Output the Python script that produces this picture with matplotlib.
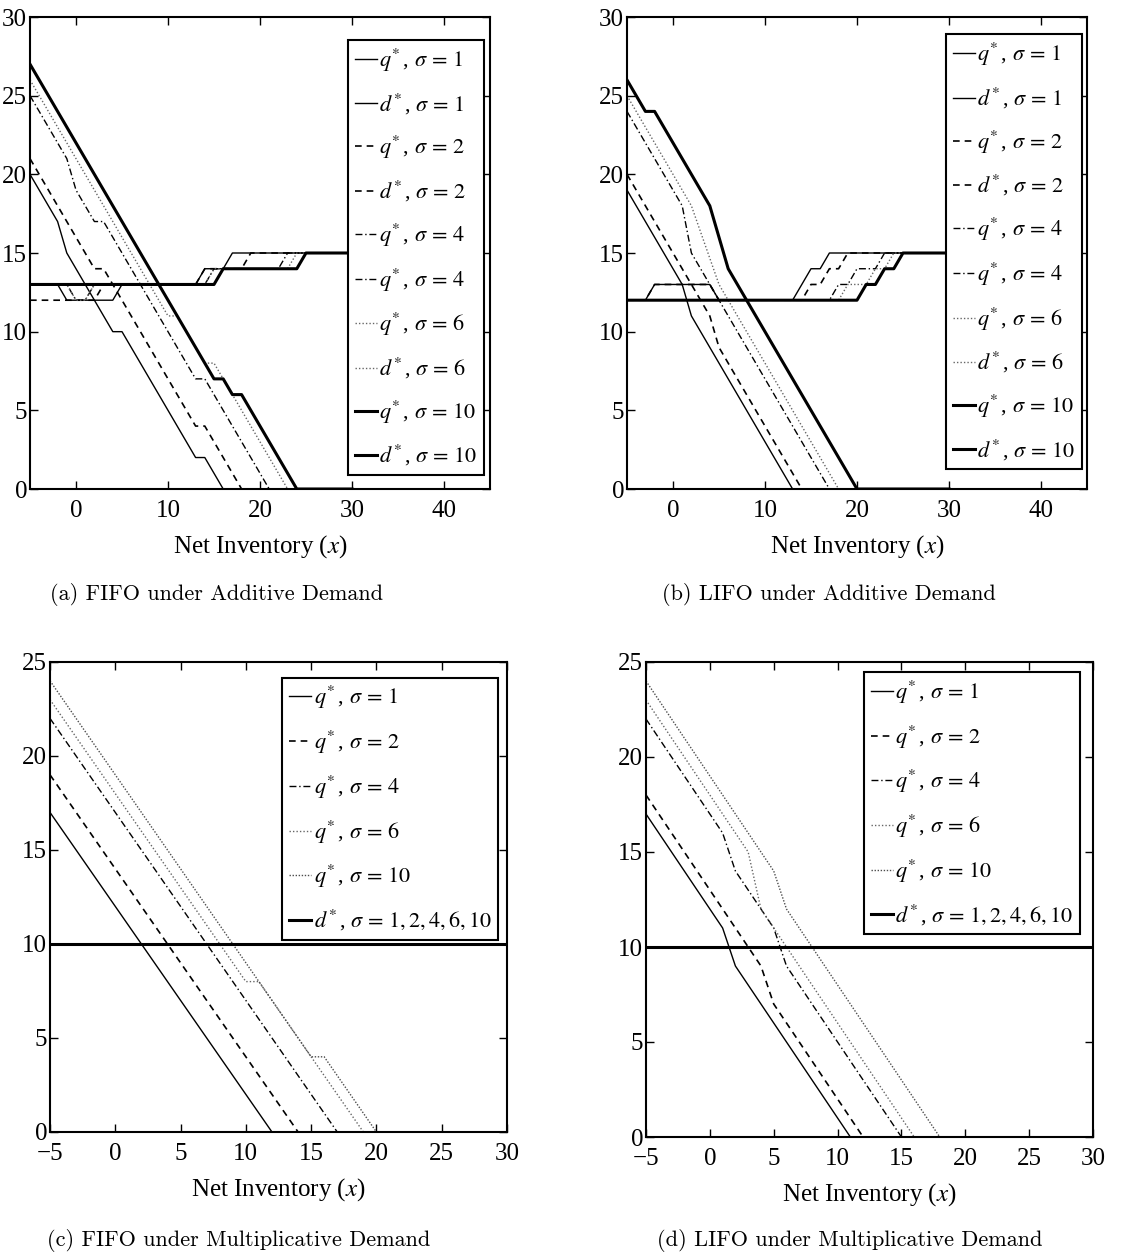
import matplotlib
matplotlib.use("Agg")
import matplotlib.pyplot as plt

plt.rcParams["font.family"] = ["Liberation Serif", "DejaVu Serif"]
plt.rcParams["mathtext.fontset"] = "stix"
plt.rcParams["axes.unicode_minus"] = True

# (a) FIFO under additive demand
a_q1_x = [-5, -2, -1, 4, 5, 13, 14, 16, 30]
a_q1_y = [20, 17, 15, 10, 10, 2, 2, 0, 0]
a_d1_x = [-5, -2, -1, 4, 5, 13, 14, 16, 17, 30]
a_d1_y = [13, 13, 12, 12, 13, 13, 14, 14, 15, 15]
a_q2_x = [-5, 2, 3, 13, 14, 18, 30]
a_q2_y = [21, 14, 14, 4, 4, 0, 0]
a_d2_x = [-5, 2, 3, 13, 14, 18, 19, 30]
a_d2_y = [12, 12, 13, 13, 14, 14, 15, 15]
a_q4_x = [-5, -1, 0, 2, 3, 13, 14, 21, 30]
a_q4_y = [25, 21, 19, 17, 17, 7, 7, 0, 0]
a_d4_x = [-5, -1, 0, 1, 2, 14, 15, 22, 23, 30]
a_d4_y = [13, 13, 12, 12, 13, 13, 14, 14, 15, 15]
a_q6_x = [-5, 10, 11, 14, 15, 23, 30]
a_q6_y = [26, 11, 11, 8, 8, 0, 0]
a_d6_x = [-5, -1, 0, 1, 2, 14, 15, 23, 24, 30]
a_d6_y = [13, 13, 12, 12, 13, 13, 14, 14, 15, 15]
a_q10_x = [-5, 15, 16, 17, 18, 24, 30]
a_q10_y = [27, 7, 7, 6, 6, 0, 0]
a_d10_x = [-5, 15, 16, 24, 25, 30]
a_d10_y = [13, 13, 14, 14, 15, 15]

# (b) LIFO under additive demand
b_q1_x = [-5, 1, 2, 13, 30]
b_q1_y = [19, 13, 11, 0, 0]
b_d1_x = [-5, -3, -2, 4, 5, 13, 14, 15, 16, 17, 30]
b_d1_y = [12, 12, 13, 13, 12, 12, 13, 14, 14, 15, 15]
b_q2_x = [-5, 4, 5, 14, 30]
b_q2_y = [20, 11, 9, 0, 0]
b_d2_x = [-5, -3, -2, 4, 5, 14, 15, 16, 17, 18, 19, 30]
b_d2_y = [12, 12, 13, 13, 12, 12, 13, 13, 14, 14, 15, 15]
b_q4_x = [-5, 1, 2, 17, 30]
b_q4_y = [24, 18, 15, 0, 0]
b_d4_x = [-5, 17, 18, 19, 20, 22, 23, 30]
b_d4_y = [12, 12, 13, 13, 14, 14, 15, 15]
b_q6_x = [-5, 2, 5, 18, 30]
b_q6_y = [25, 18, 13, 0, 0]
b_d6_x = [-5, 18, 19, 21, 22, 23, 24, 30]
b_d6_y = [12, 12, 13, 13, 14, 14, 15, 15]
b_q10_x = [-5, -3, -2, 4, 6, 20, 30]
b_q10_y = [26, 24, 24, 18, 14, 0, 0]
b_d10_x = [-5, 20, 21, 22, 23, 24, 25, 30]
b_d10_y = [12, 12, 13, 13, 14, 14, 15, 15]

# (c) FIFO under multiplicative demand
c_q1_x = [-5, 12, 30]
c_q1_y = [17, 0, 0]
c_q2_x = [-5, 14, 30]
c_q2_y = [19, 0, 0]
c_q4_x = [-5, 17, 30]
c_q4_y = [22, 0, 0]
c_q6_x = [-5, 10, 11, 19, 30]
c_q6_y = [23, 8, 8, 0, 0]
c_q10_x = [-5, 15, 16, 20, 30]
c_q10_y = [24, 4, 4, 0, 0]
c_d_x = [-5, 30]
c_d_y = [10, 10]

# (d) LIFO under multiplicative demand
d_q1_x = [-5, 1, 2, 11, 30]
d_q1_y = [17, 11, 9, 0, 0]
d_q2_x = [-5, 4, 5, 12, 30]
d_q2_y = [18, 9, 7, 0, 0]
d_q4_x = [-5, 1, 2, 5, 6, 15, 30]
d_q4_y = [22, 16, 14, 11, 9, 0, 0]
d_q6_x = [-5, 3, 4, 16, 30]
d_q6_y = [23, 15, 12, 0, 0]
d_q10_x = [-5, 5, 6, 18, 30]
d_q10_y = [24, 14, 12, 0, 0]
d_d_x = [-5, 30]
d_d_y = [10, 10]

add_labels = [r"$q^{\!*}$, $\sigma\,=\,1$", r"$d^{\!*}$, $\sigma\,=\,1$",
              r"$q^{\!*}$, $\sigma\,=\,2$", r"$d^{\!*}$, $\sigma\,=\,2$",
              r"$q^{\!*}$, $\sigma\,=\,4$", r"$q^{\!*}$, $\sigma\,=\,4$",
              r"$q^{\!*}$, $\sigma\,=\,6$", r"$d^{\!*}$, $\sigma\,=\,6$",
              r"$q^{\!*}$, $\sigma\,=\,10$", r"$d^{\!*}$, $\sigma\,=\,10$"]
mul_labels = [r"$q^{\!*}$, $\sigma\,=\,1$", r"$q^{\!*}$, $\sigma\,=\,2$",
              r"$q^{\!*}$, $\sigma\,=\,4$", r"$q^{\!*}$, $\sigma\,=\,6$",
              r"$q^{\!*}$, $\sigma\,=\,10$",
              r"$d^{\!*}$, $\sigma\,=\,1, 2, 4, 6, 10$"]

s1 = dict(color="black", lw=1.0, ls="-")
s2 = dict(color="black", lw=1.2, ls=(0, (4, 3)))
s4 = dict(color="black", lw=1.0, ls=(0, (5, 2, 1, 2)))
s6 = dict(color="0.4", lw=1.0, ls=(0, (1, 1.5)))
s10d = dict(color="0.3", lw=1.0, ls=(0, (1, 1.2)))
s10 = dict(color="black", lw=2.2, ls="-")

W, H = 1124, 1258
fig = plt.figure(figsize=(W / 100, H / 100), dpi=100)


def box(l, t, r, b):
    return [l / W, 1 - b / H, (r - l) / W, (b - t) / H]


def style(ax, xlim, ylim, xticks, yticks):
    ax.set_xlim(xlim)
    ax.set_ylim(ylim)
    ax.set_xticks(xticks)
    ax.set_yticks(yticks)
    ax.tick_params(direction="in", top=True, right=True, length=6, width=1,
                   labelsize=18)
    ax.tick_params(axis="x", pad=8)
    ax.tick_params(axis="y", pad=2)
    for sp in ax.spines.values():
        sp.set_linewidth(1.5)
    ax.set_xlabel(r"Net Inventory ($x$)", fontsize=18, labelpad=8)


def legend(ax, labels, anchor):
    lg = ax.legend(labels, loc="upper right", bbox_to_anchor=anchor,
                   borderaxespad=0, fontsize=16, handlelength=1.0,
                   handletextpad=0.1, labelspacing=0.79, borderpad=0.3,
                   fancybox=False, framealpha=1, edgecolor="black")
    lg.get_frame().set_linewidth(1.5)


# (a)
ax = fig.add_axes(box(30, 17, 490, 489))
ax.plot(a_q1_x, a_q1_y, **s1)
ax.plot(a_d1_x, a_d1_y, **s1)
ax.plot(a_q2_x, a_q2_y, **s2)
ax.plot(a_d2_x, a_d2_y, **s2)
ax.plot(a_q4_x, a_q4_y, **s4)
ax.plot(a_d4_x, a_d4_y, **s4)
ax.plot(a_q6_x, a_q6_y, **s6)
ax.plot(a_d6_x, a_d6_y, **s6)
ax.plot(a_q10_x, a_q10_y, **s10)
ax.plot(a_d10_x, a_d10_y, **s10)
style(ax, (-5, 45), (0, 30), [0, 10, 20, 30, 40], range(0, 31, 5))
legend(ax, add_labels, (0.987, 0.951))

# (b)
ax = fig.add_axes(box(627, 17, 1087, 489))
ax.plot(b_q1_x, b_q1_y, **s1)
ax.plot(b_d1_x, b_d1_y, **s1)
ax.plot(b_q2_x, b_q2_y, **s2)
ax.plot(b_d2_x, b_d2_y, **s2)
ax.plot(b_q4_x, b_q4_y, **s4)
ax.plot(b_d4_x, b_d4_y, **s4)
ax.plot(b_q6_x, b_q6_y, **s6)
ax.plot(b_d6_x, b_d6_y, **s6)
ax.plot(b_q10_x, b_q10_y, **s10)
ax.plot(b_d10_x, b_d10_y, **s10)
style(ax, (-5, 45), (0, 30), [0, 10, 20, 30, 40], range(0, 31, 5))
legend(ax, add_labels, (0.989, 0.963))

# (c)
ax = fig.add_axes(box(50, 662, 507, 1132))
ax.plot(c_q1_x, c_q1_y, **s1)
ax.plot(c_q2_x, c_q2_y, **s2)
ax.plot(c_q4_x, c_q4_y, **s4)
ax.plot(c_q6_x, c_q6_y, **s6)
ax.plot(c_q10_x, c_q10_y, **s10d)
ax.plot(c_d_x, c_d_y, **s10)
style(ax, (-5, 30), (0, 25), range(-5, 31, 5), range(0, 26, 5))
legend(ax, mul_labels, (0.980, 0.967))

# (d)
ax = fig.add_axes(box(646, 662, 1093, 1137))
ax.plot(d_q1_x, d_q1_y, **s1)
ax.plot(d_q2_x, d_q2_y, **s2)
ax.plot(d_q4_x, d_q4_y, **s4)
ax.plot(d_q6_x, d_q6_y, **s6)
ax.plot(d_q10_x, d_q10_y, **s10d)
ax.plot(d_d_x, d_d_y, **s10)
style(ax, (-5, 30), (0, 25), range(-5, 31, 5), range(0, 26, 5))
legend(ax, mul_labels, (0.970, 0.979))

cap = dict(family="cmr10", fontsize=16, ha="center", va="center")
fig.text(217 / W, 1 - 594 / H, "(a) FIFO under Additive Demand", **cap)
fig.text(829 / W, 1 - 594 / H, "(b) LIFO under Additive Demand", **cap)
fig.text(239 / W, 1 - 1240 / H, "(c) FIFO under Multiplicative Demand", **cap)
fig.text(850 / W, 1 - 1240 / H, "(d) LIFO under Multiplicative Demand", **cap)

fig.savefig("out.png", dpi=100)
